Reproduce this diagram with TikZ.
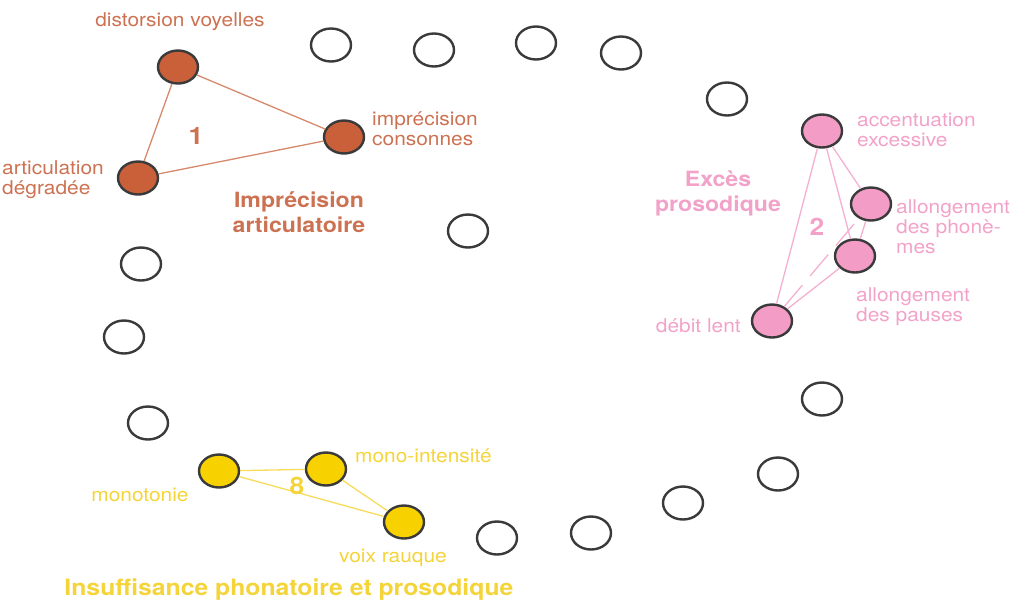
\documentclass[tikz,border=0pt]{standalone}
\usepackage{fontspec}
\setmainfont{TeX Gyre Heros}[FakeStretch=1.1]
\usetikzlibrary{shapes.geometric}

\definecolor{ringgray}{HTML}{3A3A3A}
\definecolor{brownfill}{HTML}{C9603A}
\definecolor{browntext}{HTML}{CC7252}
\definecolor{brownline}{HTML}{D58A6C}
\definecolor{pinkfill}{HTML}{F29CC6}
\definecolor{pinktext}{HTML}{F2A2C9}
\definecolor{pinkline}{HTML}{F4B0D0}
\definecolor{yellowfill}{HTML}{F8D200}
\definecolor{yellowtext}{HTML}{F5D43A}
\definecolor{yellowline}{HTML}{F7DC5A}

\tikzset{
  dot/.style={ellipse, draw=ringgray, line width=2.4pt, minimum width=40pt, minimum height=33pt, inner sep=0pt},
  blank/.style={dot, fill=white},
  brown/.style={dot, fill=brownfill},
  pink/.style={dot, fill=pinkfill},
  yellow/.style={dot, fill=yellowfill},
  txt/.style={inner sep=0pt, font=\fontsize{19}{20}\selectfont},
  ttl/.style={inner sep=0pt, align=center, font=\bfseries\fontsize{21}{25}\selectfont},
  num/.style={inner sep=0pt, font=\bfseries\fontsize{24}{24}\selectfont}
}

\begin{document}
\begin{tikzpicture}[x=1pt,y=-1pt]
\useasboundingbox (0,0) rectangle (1023,603);

%ring
\node [blank] (r1) at (331,45) {};
\node [blank] (r2) at (434,50) {};
\node [blank] (r3) at (536,43) {};
\node [blank] (r4) at (621,53) {};
\node [blank] (r5) at (727,99) {};
\node [blank] (r6) at (468,231) {};
\node [blank] (r7) at (141,264) {};
\node [blank] (r8) at (124,337) {};
\node [blank] (r9) at (148,423) {};
\node [blank] (r10) at (822,399) {};
\node [blank] (r11) at (778,474) {};
\node [blank] (r12) at (683,503) {};
\node [blank] (r13) at (591,533) {};
\node [blank] (r14) at (497,538) {};

%cluster 1
\node [brown] (dv) at (178,67) {};
\node [brown] (ic) at (344,137) {};
\node [brown] (ad) at (138,178) {};
\draw [brownline, line width=1.3pt] (dv) -- (ic) -- (ad) -- (dv);
\node [txt, text=browntext] (dvtxt) at (180,22) {distorsion voyelles};
\node [txt, text=browntext, anchor=west, align=left] (ictxt) at (372,129) {imprécision\\consonnes};
\node [txt, text=browntext, anchor=west, align=left] (adtxt) at (2,180) {articulation\\dégradée};
\node [num, text=browntext] (n1) at (196,136) {1};
\node [ttl, text=browntext] (t1) at (299,212) {Imprécision\\articulatoire};

%cluster 2
\node [pink] (ae) at (822,131) {};
\node [pink] (ap) at (871,204) {};
\node [pink] (apause) at (855,256) {};
\node [pink] (dl) at (772,321) {};
\draw [pinkline, line width=1.3pt] (ae) -- (dl);
\draw [pinkline, line width=1.3pt] (ae) -- (apause);
\draw [pinkline, line width=1.3pt] (ae) -- (ap) -- (apause) -- (dl);
\draw [pinkline, line width=1.3pt, dash pattern=on 28pt off 12pt] (dl) -- (ap);
\node [txt, text=pinktext, anchor=west, align=left] (aetxt) at (857,130) {accentuation\\excessive};
\node [txt, text=pinktext, anchor=west, align=left] (aptxt) at (896,227) {allongement\\des phonè-\\mes};
\node [txt, text=pinktext, anchor=west, align=left] (apausetxt) at (856,307) {allongement\\des pauses};
\node [txt, text=pinktext, anchor=east] (dltxt) at (741,326) {débit lent};
\node [num, text=pinktext] (n2) at (817,227) {2};
\node [ttl, text=pinktext] (t2) at (718,193) {Excès\\prosodique};

%cluster 8
\node [yellow] (mono) at (219,471) {};
\node [yellow] (mi) at (326,469) {};
\node [yellow] (vr) at (404,522) {};
\draw [yellowline, line width=1.3pt] (mono) -- (mi) -- (vr) -- (mono);
\node [txt, text=yellowtext] (monotxt) at (140,495) {monotonie};
\node [txt, text=yellowtext, anchor=west] (mitxt) at (355,456) {mono-intensité};
\node [txt, text=yellowtext] (vrtxt) at (393,558) {voix rauque};
\node [num, text=yellowtext] (n8) at (297,486) {8};
\node [ttl, text=yellowtext, font=\bfseries\fontsize{22.5}{25}\selectfont] (t3) at (289,590) {Insuffisance phonatoire et prosodique};
\end{tikzpicture}
\end{document}
